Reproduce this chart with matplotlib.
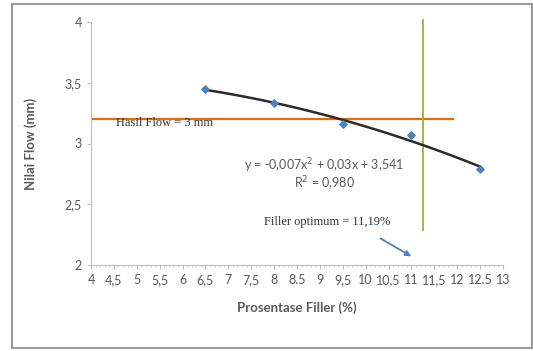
import numpy as np
import matplotlib.pyplot as plt
from matplotlib.patches import Rectangle

# data
filler = [6.5, 8, 9.5, 11, 12.5]
flow = [3.45, 3.33, 3.16, 3.07, 2.79]
x_ticks = [4, 4.5, 5, 5.5, 6, 6.5, 7, 7.5, 8, 8.5, 9, 9.5, 10, 10.5, 11, 11.5, 12, 12.5, 13]
x_ticklabels = ['4', '4,5', '5', '5,5', '6', '6,5', '7', '7,5', '8', '8.5', '9', '9,5',
                '10', '10,5', '11', '11,5', '12', '12.5', '13']
y_ticks = [2, 2.5, 3, 3.5, 4]
y_ticklabels = ['2', '2,5', '3', '3,5', '4']
flow_limit = 3.2
flow_limit_end = 11.9
filler_opt = 11.25

grey = '#595959'
fig = plt.figure(figsize=(5.33, 3.51), dpi=100)
fig.patches.append(Rectangle((12 / 533, 3 / 351), 520 / 533, 344 / 351, transform=fig.transFigure,
                             fill=False, edgecolor='#9a9a9a', linewidth=1.5))
ax = fig.add_axes([91 / 533, 1 - 265 / 351, 412 / 533, 243 / 351])

# trendline (2nd order polynomial, as in the source)
coef = np.polyfit(filler, flow, 2)
xs = np.linspace(filler[0], filler[-1], 100)
ax.plot(xs, np.polyval(coef, xs), color='#2b2b2b', linewidth=1.8, zorder=3)
ax.scatter(filler, flow, marker='D', s=14, color='#4f81bd', zorder=4)

ax.plot([4, flow_limit_end], [flow_limit, flow_limit], color='#e36c0a', linewidth=1.6, zorder=2)
ax.plot([filler_opt, filler_opt], [2.29, 4.02], color='#8db53c', linewidth=1.3, zorder=2, clip_on=False)

ax.set_xlim(4, 13)
ax.set_ylim(2, 4)
ax.set_xticks(x_ticks)
ax.set_xticklabels(x_ticklabels)
ax.set_yticks(y_ticks)
ax.set_yticklabels(y_ticklabels)
ax.set_xticks(np.arange(4, 13.01, 0.1), minor=True)
for s in ['top', 'right']:
    ax.spines[s].set_visible(False)
for s in ['left', 'bottom']:
    ax.spines[s].set_color('#bfbfbf')
ax.tick_params(axis='both', colors='#bfbfbf', labelcolor=grey, labelsize=9, length=3)
ax.tick_params(axis='x', which='minor', length=1.5, colors='#d0d0d0')
for lab in ax.get_xticklabels() + ax.get_yticklabels():
    lab.set_family('Lato')

ax.set_xlabel('Prosentase Filler (%)', family='Lato', fontsize=9.5, fontweight='bold', color=grey, labelpad=11)
ax.set_ylabel('Nilai Flow (mm)', family='Lato', fontsize=9.5, fontweight='bold', color=grey, labelpad=20)

ax.text(4.55, 3.165, 'Hasil Flow = 3 mm', family='Liberation Serif', fontsize=9, color='#333333', va='center')
ax.text(9.09, 2.815, 'y = -0,007x$^2$ + 0,03x + 3,541', family='Lato', fontsize=9, color=grey, ha='center', va='center')
ax.text(9.09, 2.667, 'R$^2$ = 0,980', family='Lato', fontsize=9, color=grey, ha='center', va='center')
ax.text(9.15, 2.354, 'Filler optimum = 11,19%', family='Liberation Serif', fontsize=9, color='#333333', ha='center', va='center')
ax.annotate('', xy=(11.05, 2.06), xytext=(10.27, 2.23),
            arrowprops=dict(arrowstyle='-|>', color='#4f81bd', lw=1.3, mutation_scale=8))

fig.savefig('out.png', dpi=100)
